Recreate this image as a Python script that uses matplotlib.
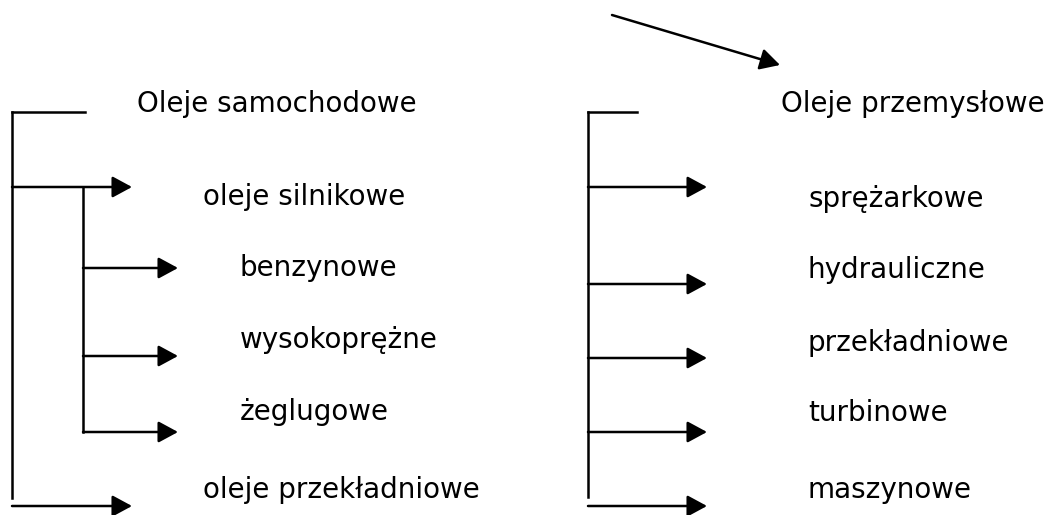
import matplotlib.pyplot as plt

# left tree
left_title = "Oleje samochodowe"
left_main = ["oleje silnikowe", "oleje przekładniowe"]
left_main_y = [187, 506]
left_sub = ["benzynowe", "wysokoprężne", "żeglugowe"]
left_sub_y = [268, 356, 432]

# right tree
right_title = "Oleje przemysłowe"
right_items = ["sprężarkowe", "hydrauliczne", "przekładniowe", "turbinowe", "maszynowe"]
right_y = [187, 284, 358, 432, 506]
right_text_y = [199, 270, 343, 413, 490]
left_main_text_y = [197, 490]
left_sub_text_y = [268, 340, 412]

fig = plt.figure(figsize=(10.47, 5.15), dpi=100)
ax = fig.add_axes([0, 0, 1, 1])
ax.set_xlim(0, 1047)
ax.set_ylim(515, 0)
ax.axis("off")

lw = 1.8
fs = 20
font = "DejaVu Sans"


def arrow(x0, y0, x1, y1):
    ax.annotate("", xy=(x1, y1), xytext=(x0, y0),
                arrowprops=dict(arrowstyle="-|>,head_length=1.2,head_width=0.65",
                                lw=lw, color="black", shrinkA=0, shrinkB=0,
                                mutation_scale=10))


# left
ax.plot([12, 12], [112, 498], color="black", lw=lw)
ax.plot([12, 85], [112, 112], color="black", lw=lw)
ax.plot([83, 83], [187, 432], color="black", lw=lw)
for y in left_main_y:
    arrow(12, y, 132, y)
for y in left_sub_y:
    arrow(83, y, 178, y)

ax.text(137, 104, left_title, fontsize=fs, family=font, va="center")
for t, y in zip(left_main, left_main_text_y):
    ax.text(203, y, t, fontsize=fs, family=font, va="center")
for t, y in zip(left_sub, left_sub_text_y):
    ax.text(240, y, t, fontsize=fs, family=font, va="center")

# right
ax.plot([588, 588], [112, 497], color="black", lw=lw)
ax.plot([588, 637], [112, 112], color="black", lw=lw)
for y in right_y:
    arrow(588, y, 707, y)

ax.text(781, 104, right_title, fontsize=fs, family=font, va="center")
for t, y in zip(right_items, right_text_y):
    ax.text(808, y, t, fontsize=fs, family=font, va="center")

# diagonal arrow
arrow(612, 15, 780, 65)

fig.savefig("out.png", dpi=100)
